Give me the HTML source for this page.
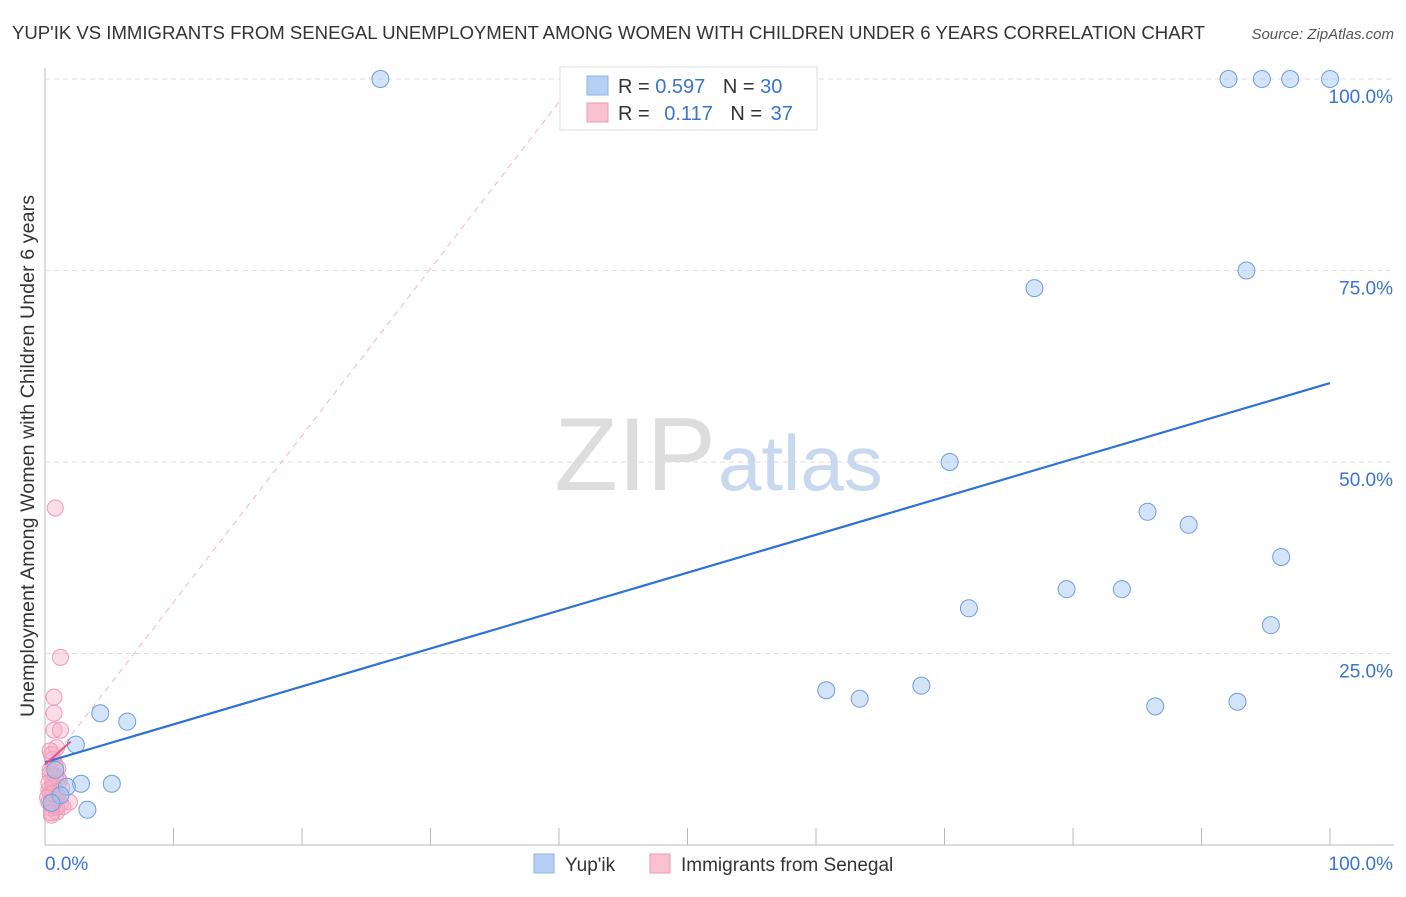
<!DOCTYPE html>
<html><head><meta charset="utf-8"><style>
body{margin:0;background:#fff;font-family:"Liberation Sans",sans-serif;}
svg text{font-family:"Liberation Sans",sans-serif;}
</style></head><body>
<svg width="1406" height="892">
<text x="12" y="39" font-size="18.6" fill="#333" textLength="1193">YUP'IK VS IMMIGRANTS FROM SENEGAL UNEMPLOYMENT AMONG WOMEN WITH CHILDREN UNDER 6 YEARS CORRELATION CHART</text>
<text x="1394" y="39" font-size="15" fill="#555" font-style="italic" text-anchor="end">Source: ZipAtlas.com</text>
<text transform="translate(34,456) rotate(-90)" font-size="19.5" fill="#333" text-anchor="middle" textLength="522">Unemployment Among Women with Children Under 6 years</text>
<g id="grid"></g>
<text x="716" y="490" font-size="104" font-family="Liberation Serif" fill="#ddd" text-anchor="end">ZIP</text>
<text x="718" y="490" font-size="78" fill="#c8d8ee">atlas</text>
<g id="marks"></g>
<g>
<rect x="560" y="67" width="257" height="63" fill="#fff" stroke="#ddd"/>
<rect x="587" y="76" width="21" height="19" fill="#b5cff5" stroke="#8fb3e6"/>
<rect x="587" y="103" width="21" height="19" fill="#f9c2d2" stroke="#ee9ab5"/>
<text x="618" y="93" font-size="20" fill="#333">R = <tspan fill="#3a73d0">0.597</tspan>  <tspan dx="12">N = </tspan><tspan fill="#3a73d0">30</tspan></text>
<text x="618" y="120" font-size="20" fill="#333">R = <tspan fill="#3a73d0" dx="9">0.117</tspan>  <tspan dx="12">N = </tspan><tspan fill="#3a73d0" dx="3">37</tspan></text>
</g>
<g>
<rect x="534" y="854" width="20" height="19" fill="#b5cff5" stroke="#8fb3e6"/>
<text x="565" y="871" font-size="19" fill="#333">Yup'ik</text>
<rect x="650" y="854" width="20" height="19" fill="#f9c2d2" stroke="#ee9ab5"/>
<text x="681" y="871" font-size="19" fill="#333">Immigrants from Senegal</text>
</g>
</svg>
<script>
const yTicks=[25,50,75,100];
const yTickLabels=["25.0%","50.0%","75.0%","100.0%"];
const blueX=[26.1,92.1,94.7,96.9,100,93.5,77.0,70.4,85.8,89.0,96.2,71.9,79.5,83.8,95.4,60.8,63.4,68.2,86.4,92.8,4.3,6.4,2.4,2.8,5.2,3.3,1.7,0.8,1.2,0.5];
const blueY=[100,100,100,100,100,75,72.7,50,43.5,41.8,37.6,30.9,33.4,33.4,28.7,20.2,19.1,20.8,18.1,18.7,17.2,16.1,13.1,8.0,8.0,4.6,7.6,9.8,6.5,5.5];
const pinkX=[0.8,1.2,0.7,0.7,0.7,1.2,0.9,0.5,0.8,0.4,0.6,1.0,1.3,0.4,0.8,1.2,1.9,0.5,0.9,0.3,0.4,0.6,1.0,1.4,0.3,0.7,1.1,0.5,0.9,0.2,0.6,1.0,0.4,0.8,0.3,0.6,0.5];
const pinkY=[44,24.5,19.3,17.2,15,15,12.7,11.8,10.5,9.3,8.0,8.7,7.4,6.8,6.0,5.4,5.6,4.8,4.3,7.2,9.8,11.2,6.4,5.0,5.6,7.7,8.4,3.9,4.9,6.2,5.2,10.0,12.3,9.0,8.1,6.7,4.2];
const blueFit=[10.8,60.3];
const pinkFit=[10.5,13.5];
const pinkDash=[11,97];
const X=v=>45+v*12.85, Y=v=>845-v*7.66;
const ns="http://www.w3.org/2000/svg";
function mk(t,a,p){const e=document.createElementNS(ns,t);for(const k in a)e.setAttribute(k,a[k]);p.appendChild(e);return e;}
const g=document.getElementById('grid'), m=document.getElementById('marks');
mk('line',{x1:45,y1:68,x2:45,y2:845,stroke:'#bbb'},g);
mk('line',{x1:45,y1:845,x2:1394,y2:845,stroke:'#bbb'},g);
for(let i=0;i<=10;i++){const l=mk('line',{x1:X(i*10),y1:828,x2:X(i*10),y2:845,stroke:'#bbb'},g);

}
yTicks.forEach((v,i)=>{const l=mk('line',{x1:45,y1:Y(v),x2:1394,y2:Y(v),stroke:'#ddd','stroke-dasharray':'5,4'},g);


const t=mk('text',{x:1393,y:Y(v)+24,'font-size':19,fill:'#3a73d0','text-anchor':'end'},g);t.textContent=yTickLabels[i];

});
const x0=mk('text',{x:45,y:870,'font-size':19,fill:'#3a73d0'},g);x0.textContent="0.0%";


const x1=mk('text',{x:1393,y:870,'font-size':19,fill:'#3a73d0','text-anchor':'end'},g);x1.textContent="100.0%";


const pd=mk('line',{x1:X(0.5),y1:Y(pinkDash[0]),x2:X(40),y2:Y(pinkDash[1]),stroke:'#f0b8ca','stroke-dasharray':'6,5'},m);


pinkX.forEach((v,i)=>{const c=mk('circle',{cx:X(v),cy:Y(pinkY[i]),r:8,fill:'rgba(246,170,195,0.4)',stroke:'#ee9ab5','stroke-width':1},m);

});
blueX.forEach((v,i)=>{const c=mk('circle',{cx:X(v),cy:Y(blueY[i]),r:8.5,fill:'rgba(160,195,240,0.45)',stroke:'#6e9de0','stroke-width':1},m);

});
const bl=mk('line',{x1:X(0),y1:Y(blueFit[0]),x2:X(100),y2:Y(blueFit[1]),stroke:'#2f72d6','stroke-width':2.2},m);


const pl=mk('line',{x1:X(0),y1:Y(pinkFit[0]),x2:X(2),y2:Y(pinkFit[1]),stroke:'#e8538a','stroke-width':2},m);


</script>
</body></html>
